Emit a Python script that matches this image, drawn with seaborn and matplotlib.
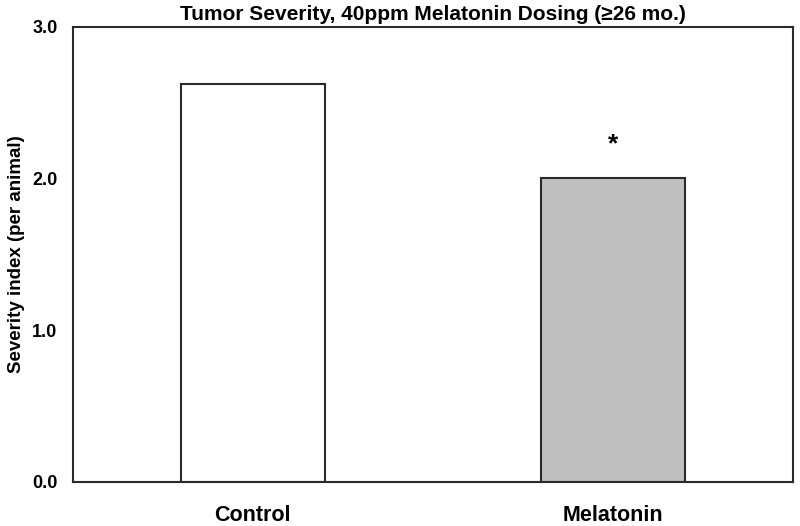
import pandas as pd
import seaborn as sns
import matplotlib.pyplot as plt

# Data
groups = ["Control", "Melatonin"]
severity = [2.62, 2.00]
bar_colors = ["#ffffff", "#c0c0c0"]

df = pd.DataFrame({"Group": groups, "Severity": severity})

sns.set_style("white")
plt.rcParams["font.family"] = ["Liberation Sans", "DejaVu Sans"]

fig = plt.figure(figsize=(8, 5.26), dpi=100)
ax = fig.add_axes([0.091, 0.084, 0.9, 0.865])

sns.barplot(data=df, x="Group", y="Severity", hue="Group", palette=bar_colors,
            width=0.4, edgecolor="#2a2a2a", linewidth=1.5, legend=False, ax=ax)

ax.set_xlim(-0.5, 1.5)
ax.set_ylim(0, 3.0)
ax.set_yticks([0.0, 1.0, 2.0, 3.0])
ax.set_yticklabels([f"{v:.1f}" for v in [0.0, 1.0, 2.0, 3.0]],
                   fontweight="bold", fontsize=13, color="black")
ax.set_xticks([0, 1])
ax.set_xticklabels(groups, fontweight="bold", fontsize=15.5, color="black")
ax.tick_params(axis="both", length=0)
ax.tick_params(axis="y", pad=11)
ax.tick_params(axis="x", pad=17)

for side in ["left", "right", "top", "bottom"]:
    ax.spines[side].set_visible(True)
    ax.spines[side].set_color("#2a2a2a")
    ax.spines[side].set_linewidth(1.5)

ax.set_xlabel("")
ax.set_ylabel("Severity index (per animal)", fontweight="bold", fontsize=13.5,
              labelpad=5, color="black")
ax.set_title("Tumor Severity, 40ppm Melatonin Dosing (\u226526 mo.)",
             fontweight="bold", fontsize=15, pad=5, color="black")

# significance marker
ax.text(1, 2.18, "*", ha="center", va="baseline", fontsize=19,
        fontweight="bold", color="black")

fig.savefig("out.png", dpi=100)
